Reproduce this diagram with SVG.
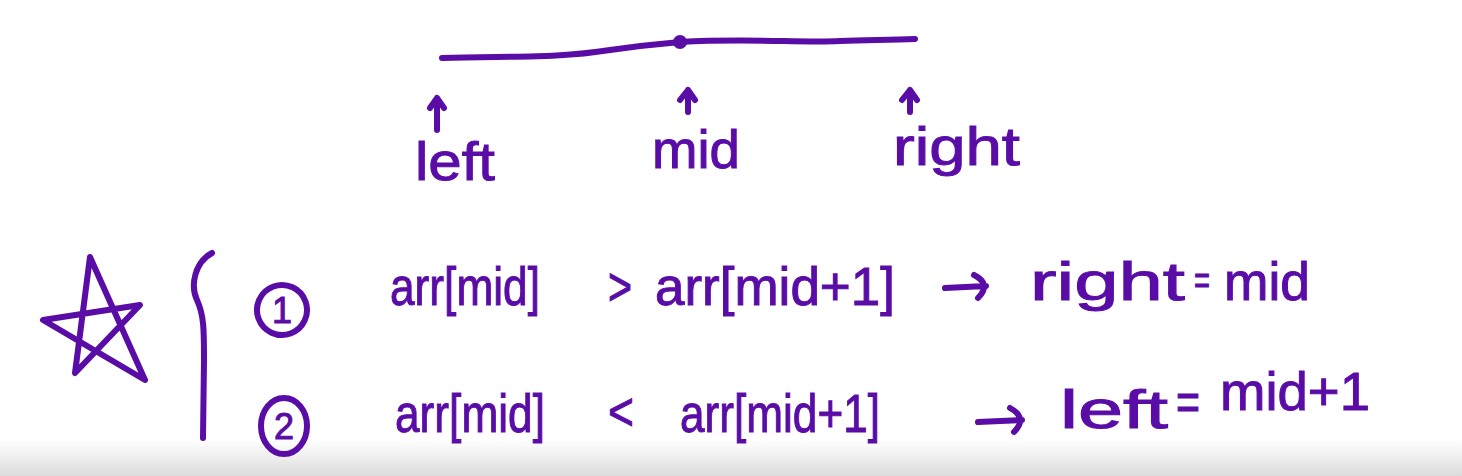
<svg xmlns="http://www.w3.org/2000/svg" width="1462" height="476" viewBox="0 0 1462 476">
<defs>
<linearGradient id="shade" x1="0" y1="0" x2="0" y2="1">
<stop offset="0" stop-color="#ffffff"/>
<stop offset="1" stop-color="#dcdcdc"/>
</linearGradient>
<style>
.ink{fill:none;stroke:#5a0ca6;stroke-width:6;stroke-linecap:round;stroke-linejoin:round}
.t{fill:#5a0ca6;stroke:#5a0ca6;stroke-width:1;font-family:"Liberation Sans","DejaVu Sans",sans-serif;font-size:54px}
.s{font-size:36px}
.e{font-size:40px}
</style>
</defs>
<rect width="1462" height="476" fill="#ffffff"/>
<rect x="0" y="440" width="1462" height="36" fill="url(#shade)"/>

<g id="number-line">
<path class="ink" d="M442,58 C520,56 560,58 610,50 C650,44 670,43 680,42 C750,38 800,43 840,41 C870,40 890,40 915,39"/>
<circle cx="680" cy="42" r="7" fill="#5a0ca6"/>
</g>

<g id="pointer-left">
<path class="ink" d="M437,130 L437,98 M430,108 L437,98 L444,108"/>
<text class="t" x="415" y="180" textLength="80" lengthAdjust="spacingAndGlyphs">left</text>
</g>
<g id="pointer-mid">
<path class="ink" d="M688,112 L688,90 M680,100 L688,90 L695,100"/>
<text class="t" x="652" y="168" textLength="88" lengthAdjust="spacingAndGlyphs">mid</text>
</g>
<g id="pointer-right">
<path class="ink" d="M910,112 L910,90 M902,100 L910,90 L917,100"/>
<text class="t" x="893" y="165" textLength="127" lengthAdjust="spacingAndGlyphs">right</text>
</g>

<g id="star">
<path class="ink" d="M75,373 L90,257 L145,380 L43,320 L140,305 L75,373 Z"/>
</g>

<g id="brace">
<path class="ink" d="M212,253 C195,262 190,285 197,300 C204,315 204,330 204,360 L203,438"/>
</g>

<g id="case-1">
<ellipse class="ink" cx="282" cy="310" rx="25" ry="25" transform="rotate(-20 282 310)"/>
<text class="t s" x="282" y="323" text-anchor="middle">1</text>
<text class="t" x="390" y="305" textLength="150" lengthAdjust="spacingAndGlyphs">arr[mid]</text>
<text class="t" x="608" y="305" textLength="24" lengthAdjust="spacingAndGlyphs">&gt;</text>
<text class="t" x="655" y="305" textLength="240" lengthAdjust="spacingAndGlyphs">arr[mid+1]</text>
<path class="ink" d="M945,288 L986,286 M974,275 Q992,284 978,298"/>
<text class="t" x="1030" y="300" textLength="155" lengthAdjust="spacingAndGlyphs">right</text>
<text class="t e" x="1194" y="294" textLength="16" lengthAdjust="spacingAndGlyphs">=</text>
<text class="t" x="1224" y="300" textLength="86" lengthAdjust="spacingAndGlyphs">mid</text>
</g>

<g id="case-2">
<ellipse class="ink" cx="284" cy="426" rx="23" ry="28"/>
<text class="t s" x="284" y="439" text-anchor="middle">2</text>
<text class="t" x="395" y="432" textLength="150" lengthAdjust="spacingAndGlyphs">arr[mid]</text>
<text class="t" x="608" y="430" textLength="26" lengthAdjust="spacingAndGlyphs">&lt;</text>
<text class="t" x="680" y="432" textLength="200" lengthAdjust="spacingAndGlyphs">arr[mid+1]</text>
<path class="ink" d="M978,422 L1022,420 M1010,408 Q1028,418 1014,432"/>
<text class="t" x="1060" y="428" textLength="108" lengthAdjust="spacingAndGlyphs">left</text>
<text class="t" x="1176" y="420" textLength="24" lengthAdjust="spacingAndGlyphs">=</text>
<text class="t" x="1220" y="410" textLength="150" lengthAdjust="spacingAndGlyphs">mid+1</text>
</g>
</svg>
